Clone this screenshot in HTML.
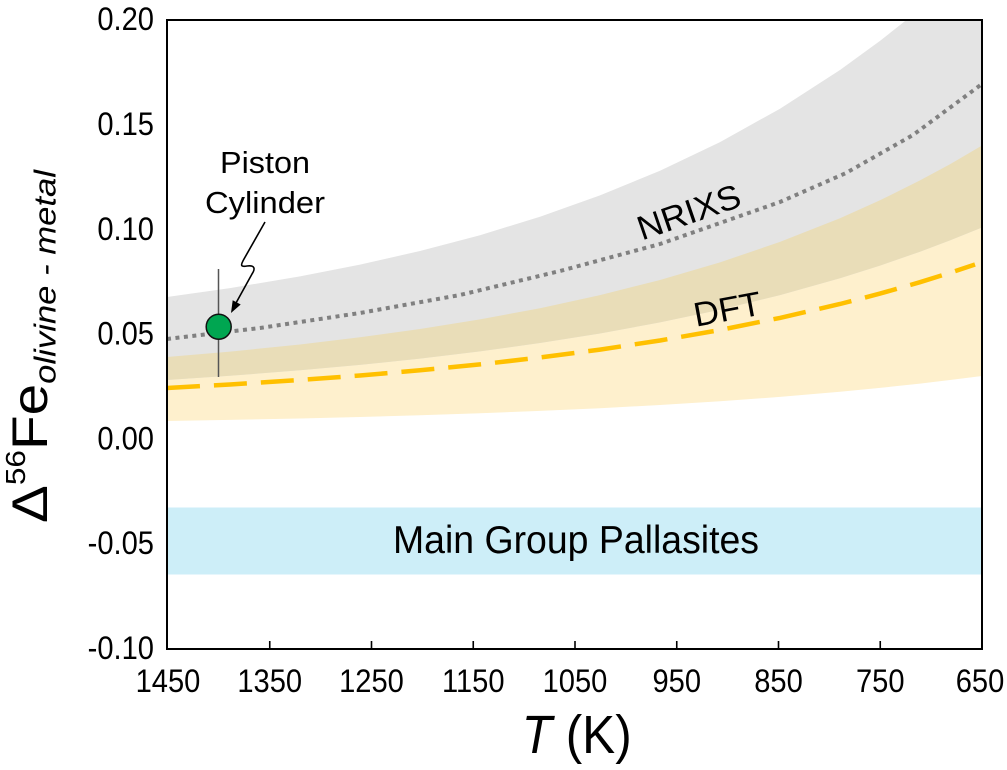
<!DOCTYPE html>
<html>
<head>
<meta charset="utf-8">
<style>
html,body{margin:0;padding:0;background:#fff;}
svg{display:block;font-family:"Liberation Sans",Arial,sans-serif;}
</style>
</head>
<body>
<svg width="1007" height="770" viewBox="0 0 1007 770" xmlns="http://www.w3.org/2000/svg">
  <defs>
    <clipPath id="plot"><rect x="167" y="20" width="815" height="629"/></clipPath>
  </defs>
  <rect x="0" y="0" width="1007" height="770" fill="#fff"/>

  <g clip-path="url(#plot)">
    <!-- DFT band (yellow) -->
    <polygon fill="#FEF0CD" points="167,357 230,351.6 300,344.5 360,337.3 420,329 480,319.4 540,308.2 600,295.1 660,280 720,262.4 780,241.9 840,218.2 880,200.3 920,180.4 950,164.2 982,145.5 982,376 950,380 920,383.6 880,387.9 840,391.8 780,396.9 720,401.2 660,405 600,408.2 540,410.9 480,413.3 420,415.3 360,417 300,418.5 230,419.9 167,421"/>
    <!-- NRIXS band (gray) -->
    <polygon fill="#E4E4E4" points="167,297 230,288.1 300,276.4 360,264.6 420,251 480,235.2 540,216.8 600,195.4 660,170.7 720,142.1 780,108.7 840,70 880,40.9 907,19.5 982,19.5 982,227.5 950,240.4 920,251.7 880,265.6 840,278.2 780,295.1 720,309.7 660,322.4 600,333.5 540,343 480,351.4 420,358.6 360,364.9 300,370.3 230,375.8 167,380"/>
    <!-- overlap (tan) -->
    <polygon fill="#E9DDB8" points="167,357 230,351.6 300,344.5 360,337.3 420,329 480,319.4 540,308.2 600,295.1 660,280 720,262.4 780,241.9 840,218.2 880,200.3 920,180.4 950,164.2 982,145.5 982,227.5 950,240.4 920,251.7 880,265.6 840,278.2 780,295.1 720,309.7 660,322.4 600,333.5 540,343 480,351.4 420,358.6 360,364.9 300,370.3 230,375.8 167,380"/>
    <!-- Main group pallasites band -->
    <rect x="167" y="507.5" width="815" height="67" fill="#CDEEF8"/>

    <!-- NRIXS dotted line -->
    <polyline fill="none" stroke="#808080" stroke-width="4" stroke-dasharray="4 4.5" points="167,339 260,328 360,313 460,295 560,271 660,244 780,202 846,173 913,135 982,84"/>
    <!-- DFT dashed line -->
    <polyline fill="none" stroke="#FFC000" stroke-width="4.5" stroke-dasharray="33 14" points="167,388 230,384.5 300,380 360,375.5 420,370.3 480,364.4 540,357.5 600,349.6 660,340.5 720,330 780,317.9 840,304 880,293.6 920,282.2 950,272.8 975,264.5"/>
  </g>

  <!-- error bar and data point -->
  <line x1="218.5" y1="269" x2="218.5" y2="377" stroke="#555" stroke-width="1.5"/>
  <circle cx="218.7" cy="326.7" r="12.5" fill="#00A651" stroke="#111" stroke-width="1.5"/>

  <!-- arrow -->
  <path d="M265,222 L244,259 C240,266 241,267 247,266 C254,265 256,268 252,274 L236,303" fill="none" stroke="#000" stroke-width="1.6"/>
  <polygon points="231,313 240.7,304.5 232.7,300.3" fill="#000"/>

  <!-- axes box -->
  <rect x="167" y="20" width="815" height="629" fill="none" stroke="#000" stroke-width="2"/>
  <!-- x ticks -->
  <g stroke="#000" stroke-width="1.6">
    <line x1="269.75" y1="641" x2="269.75" y2="649"/>
    <line x1="371.5" y1="641" x2="371.5" y2="649"/>
    <line x1="473.25" y1="641" x2="473.25" y2="649"/>
    <line x1="575" y1="641" x2="575" y2="649"/>
    <line x1="676.75" y1="641" x2="676.75" y2="649"/>
    <line x1="778.5" y1="641" x2="778.5" y2="649"/>
    <line x1="880.25" y1="641" x2="880.25" y2="649"/>
  </g>

  <!-- y tick labels -->
  <g transform="translate(154,0) scale(0.91,1)" font-size="32" text-anchor="end" fill="#000">
    <text x="0" y="30">0.20</text>
    <text x="0" y="135">0.15</text>
    <text x="0" y="240">0.10</text>
    <text x="0" y="344.5">0.05</text>
    <text x="0" y="449.3">0.00</text>
    <text x="0" y="554">-0.05</text>
    <text x="0" y="659">-0.10</text>
  </g>

  <!-- x tick labels -->
  <g font-size="32" text-anchor="middle" fill="#000">
    <text transform="translate(168,692) scale(0.91,1)">1450</text>
    <text transform="translate(269.75,692) scale(0.91,1)">1350</text>
    <text transform="translate(371.5,692) scale(0.91,1)">1250</text>
    <text transform="translate(473.25,692) scale(0.91,1)">1150</text>
    <text transform="translate(575,692) scale(0.91,1)">1050</text>
    <text transform="translate(676.75,692) scale(0.91,1)">950</text>
    <text transform="translate(778.5,692) scale(0.91,1)">850</text>
    <text transform="translate(880.25,692) scale(0.91,1)">750</text>
    <text transform="translate(980,692) scale(0.91,1)">650</text>
  </g>

  <!-- x axis label -->
  <text x="521.7" y="753" font-size="54" textLength="110" lengthAdjust="spacingAndGlyphs" fill="#000"><tspan font-style="italic">T</tspan> (K)</text>

  <!-- y axis label -->
  <text transform="translate(47,523) scale(0.92,1) rotate(-90)" font-size="54" textLength="353" lengthAdjust="spacingAndGlyphs" fill="#000">Δ<tspan font-size="30" dy="-24">56</tspan><tspan dy="24">Fe</tspan><tspan font-style="italic" font-size="33" dy="9">olivine - metal</tspan></text>

  <!-- annotations -->
  <text x="220" y="173" font-size="31" textLength="90" lengthAdjust="spacingAndGlyphs" fill="#000">Piston</text>
  <text x="205" y="213" font-size="31" textLength="120" lengthAdjust="spacingAndGlyphs" fill="#000">Cylinder</text>

  <text transform="translate(642,240.5) rotate(-19)" font-size="34" textLength="107" lengthAdjust="spacingAndGlyphs" fill="#000">NRIXS</text>
  <text transform="translate(696,326.7) rotate(-10.5)" font-size="34" textLength="68" lengthAdjust="spacingAndGlyphs" fill="#000">DFT</text>

  <text x="393" y="553" font-size="39" textLength="366" lengthAdjust="spacingAndGlyphs" fill="#000">Main Group Pallasites</text>
</svg>
</body>
</html>
